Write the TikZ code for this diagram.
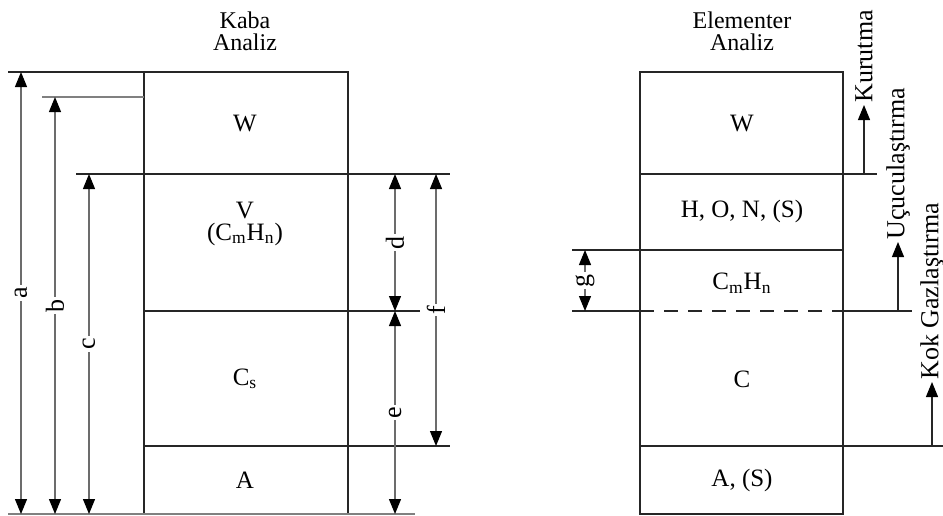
\documentclass[tikz,border=0pt]{standalone}
\usepackage{fontspec}
\setmainfont{Liberation Serif}
\usetikzlibrary{arrows.meta, positioning, calc}

\begin{document}
\begin{tikzpicture}[
    x=0.5pt, y=-0.5pt,
    boxline/.style={draw=black!85, line width=0.6pt},
    levelline/.style={draw=black!85, line width=0.6pt},
    dimline/.style={draw=gray!85!black, line width=0.6pt,
        {Triangle[length=7.5pt,width=6pt,color=black]}-{Triangle[length=7.5pt,width=6pt,color=black]}},
    stepline/.style={draw=black!85, line width=0.6pt,
        -{Triangle[length=7.5pt,width=6pt,color=black]}},
    dimlabel/.style={fill=white, rotate=90, inner sep=1pt, font=\fontsize{13}{15}\selectfont},
    steplabel/.style={rotate=90, anchor=west, inner sep=1pt, font=\fontsize{13}{15}\selectfont},
    part/.style={font=\fontsize{12.5}{15}\selectfont},
    title/.style={font=\fontsize{12}{14}\selectfont}
]
\useasboundingbox (0,0) rectangle (943,515);

% 1. Kaba Analiz (left column)
\node[title] (kaba) at (245,20) {Kaba};
\node[title] (kabaA) at (245,42) {Analiz};
\draw[boxline] (144,72) rectangle (348,514);
\coordinate (aTop) at (21,72);   \coordinate (aBot) at (21,514);
\coordinate (bTop) at (55,97);   \coordinate (bBot) at (55,514);
\coordinate (cTop) at (89,174);  \coordinate (cBot) at (89,514);
\coordinate (dTop) at (395,174); \coordinate (dBot) at (395,311);
\coordinate (eBot) at (395,514);
\coordinate (fTop) at (436,174); \coordinate (fBot) at (436,446);

\draw[levelline] (8,72) -- (348,72);
\draw[levelline, draw=gray] (42,97) -- (144,97);
\draw[levelline] (76,174) -- (450,174);
\draw[levelline] (144,311) -- (420,311);
\draw[levelline] (144,446) -- (450,446);
\draw[levelline, draw=gray] (8,514) -- (415,514);

\node[part] (w1) at (245,123) {W};
\node[part] (v1) at (245,210) {V};
\node[part] (vc1) at (245,234) {(C\textsubscript{m}H\textsubscript{n})};
\node[part] (cs1) at (245,379) {C\textsubscript{s}};
\node[part] (a1) at (245,480) {A};

% dimension arrows a - f
\draw[dimline] (aTop) -- node[dimlabel] {a} (aBot);
\draw[dimline] (bTop) -- node[dimlabel] {b} (bBot);
\draw[dimline] (cTop) -- node[dimlabel] {c} (cBot);
\draw[dimline] (dTop) -- node[dimlabel] {d} (dBot);
\draw[dimline] (dBot) -- node[dimlabel] {e} (eBot);
\draw[dimline] (fTop) -- node[dimlabel] {f} (fBot);

% 2. Elementer Analiz (right column)
\node[title] (elem) at (742,20) {Elementer};
\node[title] (elemA) at (742,42) {Analiz};
\draw[boxline] (640,72) rectangle (843,514);
\draw[levelline] (640,174) -- (877,174);
\draw[levelline] (572,250) -- (843,250);
\draw[levelline] (572,311) -- (640,311);
\draw[levelline, dash pattern=on 7pt off 5pt] (640,311) -- (843,311);
\draw[levelline] (843,311) -- (912,311);
\draw[levelline] (640,446) -- (943,446);

\node[part] (w2) at (742,123) {W};
\node[part] (hon2) at (742,211) {H, O, N, (S)};
\node[part] (cmhn2) at (742,283) {C\textsubscript{m}H\textsubscript{n}};
\node[part] (c2) at (742,379) {C};
\node[part] (as2) at (742,480) {A, (S)};

\coordinate (gTop) at (585,250); \coordinate (gBot) at (585,311);
\draw[dimline] (gTop) -- node[dimlabel] {g} (gBot);

% 3. process steps
\coordinate (kurS) at (864,174); \coordinate (kurE) at (864,105);
\coordinate (ucuS) at (898,311); \coordinate (ucuE) at (898,242);
\coordinate (kokS) at (932,446); \coordinate (kokE) at (932,382);
\draw[stepline] (kurS) -- (kurE);
\draw[stepline] (ucuS) -- (ucuE);
\draw[stepline] (kokS) -- (kokE);
\node[steplabel] (kur) at (kurE) {Kurutma};
\node[steplabel] (ucu) at (ucuE) {Uçuculaştırma};
\node[steplabel] (kok) at (kokE) {Kok Gazlaştırma};

\end{tikzpicture}
\end{document}
